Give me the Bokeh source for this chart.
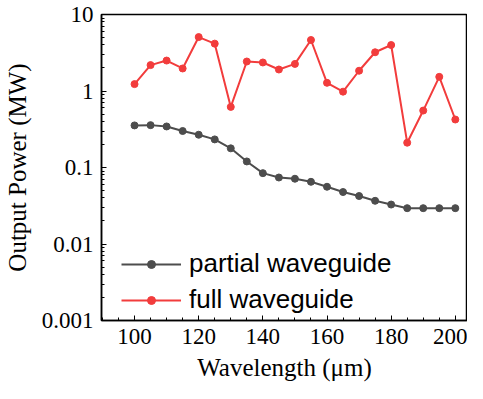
from bokeh.plotting import figure
from bokeh.models import FixedTicker, Legend, LegendItem, Range1d
from bokeh.embed import file_html
from bokeh.resources import INLINE

wavelength = [100, 105, 110, 115, 120, 125, 130, 135, 140, 145, 150, 155, 160, 165, 170, 175, 180, 185, 190, 195, 200]
partial = [0.355, 0.358, 0.344, 0.30, 0.268, 0.233, 0.178, 0.12, 0.0844, 0.074, 0.0713, 0.065, 0.056, 0.0478, 0.0424, 0.0367, 0.0328, 0.0294, 0.0294, 0.0294, 0.0294]
full = [1.23, 2.18, 2.5, 1.97, 5.07, 4.16, 0.62, 2.43, 2.36, 1.91, 2.26, 4.64, 1.28, 0.98, 1.84, 3.21, 3.99, 0.211, 0.555, 1.53, 0.424]
y_ticks = [0.001, 0.01, 0.1, 1, 10]
y_labels = ["0.001", "0.01", "0.1", "1", "10"]
x_ticks = [100, 120, 140, 160, 180, 200]

p = figure(width=467, height=383, y_axis_type="log", output_backend="svg",
           toolbar_location=None, x_range=Range1d(89.7, 203.8), y_range=Range1d(0.001, 10),
           min_border_left=101, min_border_top=14, min_border_right=0, min_border_bottom=58)
p.grid.visible = False
p.outline_line_color = "black"
p.outline_line_width = 1.5

gray = "#4d4d4d"
red = "#f23c3c"
l1 = p.line(wavelength, partial, line_color=gray, line_width=2)
m1 = p.scatter(wavelength, partial, size=7, fill_color=gray, line_color=gray)
l2 = p.line(wavelength, full, line_color=red, line_width=2)
m2 = p.scatter(wavelength, full, size=7, fill_color=red, line_color=red)

minor = []
for d in [0.001, 0.01, 0.1, 1]:
    for k in range(2, 10):
        minor.append(d * k)
p.yaxis.ticker = FixedTicker(ticks=y_ticks, minor_ticks=minor)
p.yaxis.major_label_overrides = {t: l for t, l in zip(y_ticks, y_labels)}
p.xaxis.ticker = FixedTicker(ticks=x_ticks, minor_ticks=list(range(90, 210, 5)))

for ax in [p.xaxis[0], p.yaxis[0]]:
    ax.major_tick_in = 5
    ax.major_tick_out = 0
    ax.minor_tick_in = 3
    ax.minor_tick_out = 0
    ax.axis_line_width = 1.5
    ax.axis_line_color = "black"
    ax.major_tick_line_color = "black"
    ax.minor_tick_line_color = "black"
    ax.major_label_text_font = "Liberation Serif"
    ax.major_label_text_font_size = "23px"
    ax.major_label_text_color = "black"
    ax.axis_label_text_font = "Liberation Serif"
    ax.axis_label_text_font_size = "25px"
    ax.axis_label_text_font_style = "normal"
    ax.axis_label_text_color = "black"

p.xaxis.axis_label = "Wavelength (μm)"
p.yaxis.axis_label = "Output Power (MW)"
p.xaxis.major_label_standoff = 8
p.yaxis.major_label_standoff = 8
p.xaxis.axis_label_standoff = 7
p.yaxis.axis_label_standoff = 8

legend = Legend(items=[LegendItem(label="partial waveguide", renderers=[l1, m1]),
                       LegendItem(label="full waveguide", renderers=[l2, m2])],
                location=(20, 5))
legend.background_fill_alpha = 0
legend.border_line_alpha = 0
legend.label_text_font = "Liberation Sans"
legend.label_text_font_size = "26px"
legend.label_text_color = "black"
legend.glyph_width = 60
legend.spacing = 5
legend.padding = 0
legend.margin = 0
legend.label_standoff = 8
p.add_layout(legend)

open("out.html", "w").write(file_html(p, INLINE))
